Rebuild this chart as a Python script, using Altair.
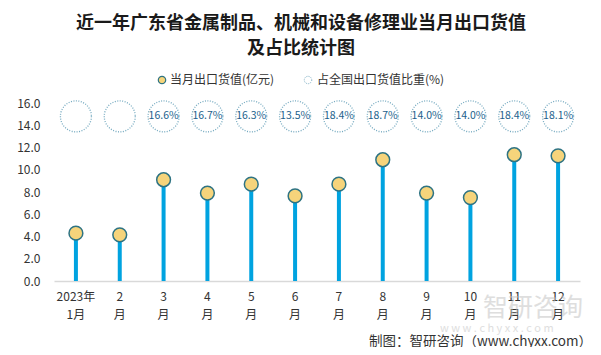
import altair as alt
import pandas as pd

months = ["2023年\n1月", "2\n月", "3\n月", "4\n月", "5\n月", "6\n月",
          "7\n月", "8\n月", "9\n月", "10\n月", "11\n月", "12\n月"]
values = [4.3, 4.15, 9.1, 7.9, 8.7, 7.65, 8.7, 10.9, 7.9, 7.5, 11.35, 11.25]
shares = [None, None, 16.6, 16.7, 16.3, 13.5, 18.4, 18.7, 14.0, 14.0, 18.4, 18.1]
y_ticks = [0, 2, 4, 6, 8, 10, 12, 14, 16]

title_lines = ["近一年广东省金属制品、机械和设备修理业当月出口货值", "及占比统计图"]
legend_labels = ["当月出口货值(亿元)", "占全国出口货值比重(%)"]
source_text = "制图：智研咨询（www.chyxx.com）"
watermark = ["智研咨询", "w w w . c h y x x . c o m"]

df = pd.DataFrame({
    "month": months,
    "value": values,
    "share": shares,
})
df["share_label"] = [("" if s is None else f"{s:.1f}%") for s in shares]

FONT = "Noto Sans CJK SC"

x = alt.X("month:N", sort=months, title=None,
          scale=alt.Scale(paddingInner=0, paddingOuter=0),
          axis=alt.Axis(labelExpr="split(datum.label, '\\n')", labelAngle=0,
                        ticks=False, domainColor="#d9d9d9", domainWidth=1.5,
                        labelPadding=10, labelLineHeight=18, labelFontSize=12,
                        labelColor="#333333", labelFont=FONT, labelOverlap=False))
y_scale = alt.Scale(domain=[0, 16], nice=False)
y_axis = alt.Axis(values=y_ticks, format=".1f",
                  grid=False, ticks=False, domain=False, labelOverlap=False,
                  labelPadding=14, labelFontSize=12, labelColor="#333333",
                  labelFont=FONT)

base = alt.Chart(df)

stems = base.mark_rule(color="#00a3e0", strokeWidth=4).encode(
    x=x,
    y=alt.Y("value:Q", scale=y_scale, title=None, axis=y_axis),
    y2=alt.Y2(datum=0),
)

dots = base.mark_point(filled=True, fill="#f6d47b", stroke="#2e7383",
                       strokeWidth=1.5, size=190, opacity=1).encode(
    x=x, y=alt.Y("value:Q", scale=y_scale, title=None, axis=y_axis),
)

rings = base.mark_point(shape="circle", filled=False, stroke="#3a86a6",
                        strokeWidth=1.3, strokeDash=[1, 1.5], size=960).encode(
    x=x, y=alt.Y(datum=14.8, scale=y_scale, title=None, axis=y_axis),
)

ring_text = base.mark_text(fontSize=10.5, color="#1c5f8c", font=FONT).encode(
    x=x, y=alt.Y(datum=14.8, scale=y_scale, title=None, axis=y_axis), text="share_label:N",
)

def single_text(txt, xpx, ypx, **kw):
    d = pd.DataFrame({"t": [txt]})
    return alt.Chart(d).mark_text(font=FONT, **kw).encode(
        x=alt.value(xpx), y=alt.value(ypx), text="t:N")

title1 = single_text(title_lines[0], 247, -79, fontSize=18, fontWeight="bold",
                     color="#1a1a1a", align="center", baseline="middle")
title2 = single_text(title_lines[1], 247, -54, fontSize=18, fontWeight="bold",
                     color="#1a1a1a", align="center", baseline="middle")

leg_df = pd.DataFrame({"label": legend_labels})
leg_dot1 = alt.Chart(leg_df.iloc[[0]]).mark_point(filled=True, fill="#f6d47b", stroke="#2e7383",
                                                  strokeWidth=1.2, size=55, opacity=1).encode(
    x=alt.value(108), y=alt.value(-23))
leg_dot2 = alt.Chart(leg_df.iloc[[1]]).mark_point(filled=False, stroke="#3f88a8", strokeWidth=1,
                                                  strokeDash=[1, 1.2], size=55).encode(
    x=alt.value(254), y=alt.value(-23))
leg_t1 = single_text(legend_labels[0], 116, -23, align="left", baseline="middle",
                     fontSize=12, color="#333333")
leg_t2 = single_text(legend_labels[1], 263, -23, align="left", baseline="middle",
                     fontSize=12, color="#333333")

source = single_text(source_text, 538, 239, align="right", baseline="middle",
                     fontSize=13.5, color="#333333")

wm1 = single_text(watermark[0], 429, 205, align="left", baseline="middle", fontSize=25,
                  color="#c4c4c4", opacity=0.55)
wm2 = single_text(watermark[1], 386, 226, align="left", baseline="middle", fontSize=11,
                  color="#c4c4c4", opacity=0.55)

chart = alt.layer(stems, dots, rings, ring_text, wm1, wm2, title1, title2, leg_dot1, leg_dot2,
                  leg_t1, leg_t2, source).properties(
    width=526, height=178,
    autosize=alt.AutoSizeParams(type="none"),
    padding={"left": 46, "top": 95, "right": 13, "bottom": 66},
    background="white",
).configure_view(stroke=None)

chart.save("out.html", embed_options={"renderer": "svg", "actions": False})
